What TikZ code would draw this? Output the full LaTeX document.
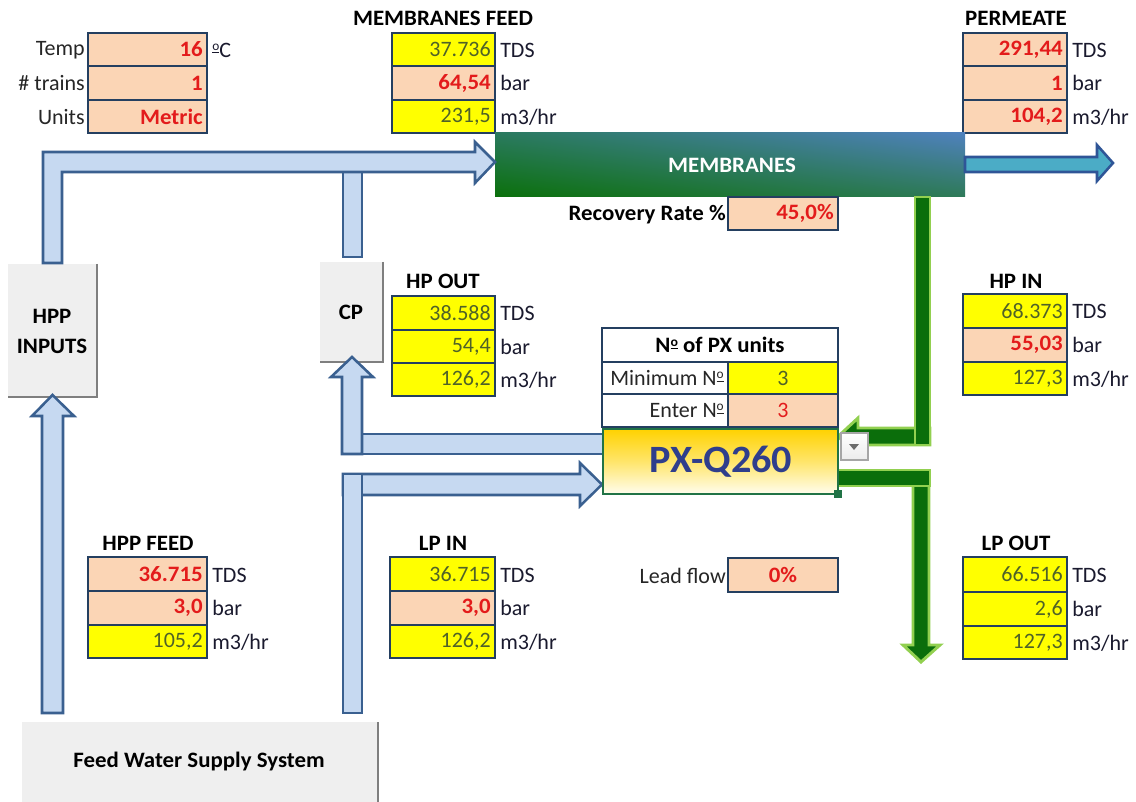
\documentclass[tikz,border=0pt]{standalone}
\usepackage{fontspec}
\setmainfont{Carlito}[BoldFeatures={FakeStretch=1.04}]
\usetikzlibrary{shadings}
\definecolor{peach}{HTML}{FBD5B5}
\definecolor{yel}{HTML}{FFFF00}
\definecolor{redt}{HTML}{E31B1B}
\definecolor{olivet}{HTML}{4F6228}
\definecolor{cellb}{HTML}{243F60}
\definecolor{unitc}{HTML}{1A1A2E}
\definecolor{ablue}{HTML}{C6D9F1}
\definecolor{ablueb}{HTML}{3A6090}
\definecolor{gfill}{HTML}{0B6E0B}
\definecolor{gbord}{HTML}{92D050}
\definecolor{tealf}{HTML}{4BACC6}
\definecolor{tealb}{HTML}{2F5597}
\definecolor{boxg}{HTML}{EFEFEF}
\definecolor{shadowg}{HTML}{7F7F7F}
\definecolor{pxb}{HTML}{217346}
\definecolor{pxt}{HTML}{2F3E8C}
\definecolor{pxtop}{HTML}{FFD200}
\definecolor{pxbot}{HTML}{FFFDEE}
\definecolor{mUL}{HTML}{2A7A5E}
\definecolor{mUR}{HTML}{4F81BD}
\definecolor{mLL}{HTML}{0B700B}
\definecolor{mLR}{HTML}{2E7A58}
\definecolor{lblc}{HTML}{262626}

% masculine ordinal with underline
\newcommand\ordm{\raisebox{0.62ex}{\fontsize{10}{10}\selectfont\underline{o}}}

% value cell, right aligned: name x1 y1 x2 y2 fill style text
\newcommand\cellv[8]{%
  \path[cellframe, fill=#6] (#2,#3) rectangle (#4,#5);
  \node[anchor=east, inner sep=0pt, #7] (#1) at ({#4-4},{(#3+#5)/2}) {#8};}
% centered cell
\newcommand\cellc[8]{%
  \path[cellframe, fill=#6] (#2,#3) rectangle (#4,#5);
  \node[inner sep=0pt, #7] (#1) at ({(#2+#4)/2},{(#3+#5)/2}) {#8};}

\tikzset{
  cellframe/.style={draw=cellb, line width=2pt},
  rv/.style={text=redt, font=\bfseries},
  rn/.style={text=redt},
  yv/.style={text=olivet},
  unit/.style={anchor=west, inner sep=0pt, text=unitc},
  lbl/.style={anchor=east, inner sep=0pt, text=lblc},
  ttl/.style={font=\bfseries, inner sep=0pt, text=black},
  barrow/.style={fill=ablue, draw=ablueb, line width=1.9pt, line join=miter},
  garrow/.style={fill=gfill, draw=gbord, line width=2.2pt, line join=miter},
  tarrow/.style={fill=tealf, draw=tealb, line width=1.9pt, line join=miter},
  graybox/.style={fill=boxg},
  shadowline/.style={draw=shadowg, line width=1.6pt},
}

\begin{document}
\begin{tikzpicture}[x=0.75pt, y=-0.75pt]
\fontsize{16.5}{19.5}\selectfont
\useasboundingbox (0,0) rectangle (1136,802);
\fill[white] (0,0) rectangle (1136,802);

% ---------- top-left settings ----------
\node[lbl] (tempL) at (85,50) {Temp};
\node[lbl] (trainsL) at (85,83) {\# trains};
\node[lbl] (unitsL) at (85,117) {Units};
\cellv{temp}{88}{33}{207}{66}{peach}{rv}{16}
\cellv{trains}{88}{66}{207}{100}{peach}{rv}{1}
\cellv{units}{88}{100}{207}{133}{peach}{rv}{Metric}
\node[unit] (degC) at (212,50) {\ordm C};

% ---------- membranes feed ----------
\node[ttl] (mfT) at (443,18) {MEMBRANES FEED};
\cellv{mf1}{392}{33}{495}{66}{yel}{yv}{37.736}
\cellv{mf2}{392}{66}{495}{100}{peach}{rv}{64,54}
\cellv{mf3}{392}{100}{495}{133}{yel}{yv}{231,5}
\node[unit] (mfU1) at (500,50) {TDS};
\node[unit] (mfU2) at (500,83) {bar};
\node[unit] (mfU3) at (500,117) {m3/hr};

% ---------- permeate ----------
\node[ttl] (pT) at (1016,18) {PERMEATE};
\cellv{p1}{963}{33}{1067}{66}{peach}{rv}{291,44}
\cellv{p2}{963}{66}{1067}{100}{peach}{rv}{1}
\cellv{p3}{963}{100}{1067}{133}{peach}{rv}{104,2}
\node[unit] (pU1) at (1072,50) {TDS};
\node[unit] (pU2) at (1072,83) {bar};
\node[unit] (pU3) at (1072,117) {m3/hr};

% ---------- gray boxes ----------
\path[graybox] (8,264) rectangle (97,397);
\draw[shadowline] (97,264) -- (97,397) -- (8,397);
\node[font=\bfseries, align=center, inner sep=0pt] (hppin) at (52,331) {HPP\\[3pt]INPUTS};
\path[graybox] (320,262) rectangle (383,362);
\draw[shadowline] (383,262) -- (383,362) -- (320,362);
\node[font=\bfseries, inner sep=0pt] (cp) at (351,312) {CP};
\path[graybox] (22,722) rectangle (378,802);
\draw[shadowline] (378,722) -- (378,802);
\node[font=\bfseries, inner sep=0pt] (fws) at (199,762) {Feed Water Supply System};

% ---------- membranes block ----------
\shade[upper left=mUL, upper right=mUR, lower left=mLL, lower right=mLR] (495,133) rectangle (965,197);
\node[font=\bfseries, text=white, inner sep=0pt] (memb) at (732,165) {MEMBRANES};

% ---------- blue arrows ----------
\path[barrow] (343,172) rectangle (362,257);
\path[barrow] (43,263) -- (43,152) -- (475,152) -- (475,142) -- (495,162) -- (475,183) -- (475,172) -- (62,172) -- (62,263) -- cycle;
\path[barrow] (42,713) -- (42,416) -- (32,416) -- (52.5,395) -- (74,416) -- (63,416) -- (63,713) -- cycle;
\path[barrow] (362,434) rectangle (603,454);
\path[barrow] (342,454) -- (342,377) -- (331,377) -- (352,357) -- (373,377) -- (362,377) -- (362,454) -- cycle;
\path[barrow] (343,474) -- (580,474) -- (580,463) -- (602,484.5) -- (580,506) -- (580,495) -- (343,495) -- cycle;
\path[barrow] (343,474) rectangle (362,713);

% permeate arrow
\path[tarrow] (965,157) -- (1097,157) -- (1097,145) -- (1113,163) -- (1097,181) -- (1097,172) -- (965,172) -- cycle;

% ---------- green arrows ----------
\path[garrow] (930,428) -- (858,428) -- (858,418) -- (838,436.5) -- (858,455) -- (858,445) -- (930,445) -- cycle;
\path[garrow] (915,197) rectangle (930,445);
\path[garrow] (913,478) -- (913,645) -- (903,645) -- (921,662) -- (940,645) -- (929,645) -- (929,478) -- cycle;
\path[garrow] (838,470) rectangle (930,486);

% ---------- recovery ----------
\node[lbl, font=\bfseries, text=black] (recL) at (726,215) {Recovery Rate \%};
\cellv{rec}{728}{197}{838}{230}{peach}{rv}{45,0\%}

% ---------- HP OUT ----------
\node[ttl] (hpoT) at (443,281) {HP OUT};
\cellv{hpo1}{392}{296}{495}{330}{yel}{yv}{38.588}
\cellv{hpo2}{392}{330}{495}{363}{yel}{yv}{54,4}
\cellv{hpo3}{392}{363}{495}{396}{yel}{yv}{126,2}
\node[unit] (hpoU1) at (500,313) {TDS};
\node[unit] (hpoU2) at (500,347) {bar};
\node[unit] (hpoU3) at (500,380) {m3/hr};

% ---------- HP IN ----------
\node[ttl] (hpiT) at (1016,281) {HP IN};
\cellv{hpi1}{963}{294}{1067}{328}{yel}{yv}{68.373}
\cellv{hpi2}{963}{328}{1067}{362}{peach}{rv}{55,03}
\cellv{hpi3}{963}{362}{1067}{395}{yel}{yv}{127,3}
\node[unit] (hpiU1) at (1072,311) {TDS};
\node[unit] (hpiU2) at (1072,345) {bar};
\node[unit] (hpiU3) at (1072,379) {m3/hr};

% ---------- PX units table ----------
\cellc{pxT}{602}{328}{838}{362}{white}{font=\bfseries}{N\ordm{} of PX units}
\cellv{minL}{602}{362}{728}{394}{white}{text=lblc}{Minimum N\ordm}
\cellc{minV}{728}{362}{838}{394}{yel}{yv}{3}
\cellv{entL}{602}{394}{728}{427}{white}{text=lblc}{Enter N\ordm}
\cellc{entV}{728}{394}{838}{427}{peach}{rn}{3}

% ---------- PX box ----------
\shade[top color=pxtop, bottom color=pxbot, middle color=pxtop!55!pxbot] (603,429) rectangle (838,494);
\draw[pxb, line width=1.6pt] (603,429) rectangle (838,494);
\node[font=\fontsize{29}{33}\selectfont\bfseries, text=pxt, inner sep=0pt] (px) at (721,462) {PX-Q260};
\fill[pxb] (834,490) rectangle (842,498);
% dropdown button
\shade[top color=white, bottom color=gray!15, draw=gray!70, line width=0.9pt] (841,433) rectangle (868,460);
\fill[gray!85!black] (849,444) -- (859,444) -- (854,450) -- cycle;

% ---------- HPP FEED ----------
\node[ttl] (hfT) at (148,543) {HPP FEED};
\cellv{hf1}{88}{557}{207}{591}{peach}{rv}{36.715}
\cellv{hf2}{88}{591}{207}{625}{peach}{rv}{3,0}
\cellv{hf3}{88}{625}{207}{658}{yel}{yv}{105,2}
\node[unit] (hfU1) at (212,575) {TDS};
\node[unit] (hfU2) at (212,608) {bar};
\node[unit] (hfU3) at (212,642) {m3/hr};

% ---------- LP IN ----------
\node[ttl] (lpiT) at (443,543) {LP IN};
\cellv{lpi1}{390}{557}{495}{591}{yel}{yv}{36.715}
\cellv{lpi2}{390}{591}{495}{625}{peach}{rv}{3,0}
\cellv{lpi3}{390}{625}{495}{658}{yel}{yv}{126,2}
\node[unit] (lpiU1) at (500,575) {TDS};
\node[unit] (lpiU2) at (500,608) {bar};
\node[unit] (lpiU3) at (500,642) {m3/hr};

% ---------- lead flow ----------
\node[lbl] (leadL) at (726,576) {Lead flow};
\cellc{lead}{728}{558}{838}{592}{peach}{rv}{0\%}

% ---------- LP OUT ----------
\node[ttl] (lpoT) at (1016,543) {LP OUT};
\cellv{lpo1}{963}{557}{1067}{592}{yel}{yv}{66.516}
\cellv{lpo2}{963}{592}{1067}{626}{yel}{yv}{2,6}
\cellv{lpo3}{963}{626}{1067}{659}{yel}{yv}{127,3}
\node[unit] (lpoU1) at (1072,575) {TDS};
\node[unit] (lpoU2) at (1072,609) {bar};
\node[unit] (lpoU3) at (1072,643) {m3/hr};
\end{tikzpicture}
\end{document}
